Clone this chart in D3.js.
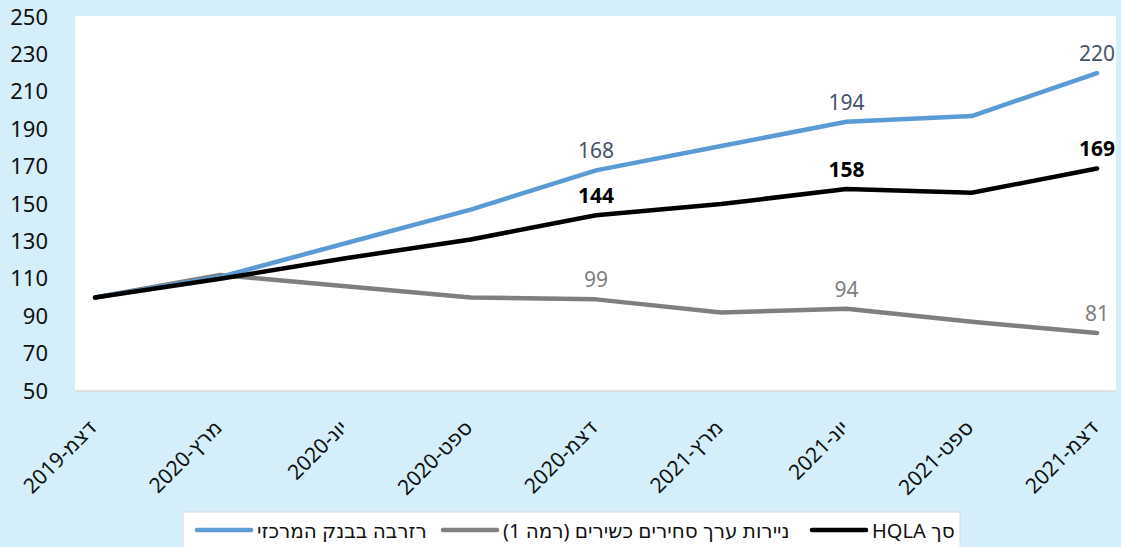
<!DOCTYPE html>
<html lang="he">
<head>
<meta charset="utf-8">
<script src="https://cdn.jsdelivr.net/npm/d3@7"></script>
<style>
  html, body { margin: 0; padding: 0; background: #d4eefa; }
  svg { display: block; font-family: "Noto Sans", "DejaVu Sans", sans-serif; }
</style>
</head>
<body>
<svg id="chart" width="1121" height="547"></svg>
<script>
// Data (index, Dec-2019 = 100)
const categories = ["דצמ-2019", "מרץ-2020", "יונ-2020", "ספט-2020", "דצמ-2020", "מרץ-2021", "יונ-2021", "ספט-2021", "דצמ-2021"];
const reserveValues = [100, 111, 129, 147, 168, 181, 194, 197, 220];
const securitiesValues = [100, 112, 106, 100, 99, 92, 94, 87, 81];
const hqlaValues = [100, 110, 121, 131, 144, 150, 158, 156, 169];
const yTicks = [50, 70, 90, 110, 130, 150, 170, 190, 210, 230, 250];
const labelIdx = [4, 6, 8];

const series = [
  { name: "רזרבה בבנק המרכזי", values: reserveValues, color: "#5b9bd5", labelColor: "#44546a", bold: false },
  { name: "ניירות ערך סחירים כשירים (רמה 1)", values: securitiesValues, color: "#7f7f7f", labelColor: "#808080", bold: false },
  { name: "סך HQLA", values: hqlaValues, color: "#000000", labelColor: "#000000", bold: true },
];

const svg = d3.select("#chart");
const W = 1121, H = 547;
const plot = { left: 75, right: 1116, top: 16, bottom: 391 };

svg.append("rect").attr("width", W).attr("height", H).attr("fill", "#d4eefa");
svg.append("rect")
  .attr("x", plot.left).attr("y", plot.top)
  .attr("width", plot.right - plot.left).attr("height", plot.bottom - plot.top)
  .attr("fill", "#fff");

const x = d3.scalePoint().domain(categories).range([95, 1097]);
const y = d3.scaleLinear().domain([50, 250]).range([plot.bottom, plot.top + 1]);

// y axis labels
const yAxis = svg.append("g")
  .attr("transform", `translate(${plot.left - 27},0)`)
  .call(d3.axisLeft(y).tickValues(yTicks).tickSize(0).tickPadding(0));
yAxis.select(".domain").remove();
yAxis.selectAll("text").attr("font-size", 22).attr("fill", "#111").attr("font-family", "Noto Sans");

// bottom line
svg.append("line")
  .attr("x1", plot.left).attr("x2", plot.right)
  .attr("y1", plot.bottom).attr("y2", plot.bottom)
  .attr("stroke", "#d9d9d9").attr("stroke-width", 1.5);

// x axis labels (rotated)
svg.append("g").selectAll("text")
  .data(categories)
  .enter()
  .append("text")
  .attr("transform", (d) => `translate(${x(d) - 1},${plot.bottom + 34}) rotate(-45)`)
  .attr("text-anchor", "end")
  .attr("dominant-baseline", "middle")
  .attr("font-size", 21)
  .attr("fill", "#111")
  .text((d) => d);

// lines
const line = d3.line()
  .x((d, i) => x(categories[i]))
  .y((d) => y(d));

const drawOrder = [series[1], series[0], series[2]];
svg.append("g").selectAll("path")
  .data(drawOrder)
  .enter()
  .append("path")
  .attr("d", (s) => line(s.values))
  .attr("fill", "none")
  .attr("stroke", (s) => s.color)
  .attr("stroke-width", 4.5)
  .attr("stroke-linejoin", "round")
  .attr("stroke-linecap", "round");

// data labels
series.forEach((s) => {
  svg.append("g").selectAll("text")
    .data(labelIdx)
    .enter()
    .append("text")
    .attr("x", (i) => x(categories[i]))
    .attr("y", (i) => y(s.values[i]) - 12)
    .attr("text-anchor", "middle")
    .attr("font-size", 21)
    .attr("font-weight", s.bold ? "bold" : "normal")
    .attr("fill", s.labelColor)
    .text((i) => s.values[i]);
});

// legend: [line][rtl text] entries, left to right
const legend = svg.append("g");
legend.append("rect")
  .attr("x", 183).attr("y", 512)
  .attr("width", 960 - 183).attr("height", 36)
  .attr("fill", "#fff").attr("stroke", "#d9d9d9");

// pick a font size so the first label is about as wide as in the reference
const probe = svg.append("text").attr("font-size", 20).attr("direction", "rtl").text(series[0].name);
const legendFont = Math.min(20, 20 * 175 / probe.node().getComputedTextLength());
probe.remove();

const legendStarts = [197, 443, 812];
const lineLen = 54, textGap = 6;
const ly = 530;
series.forEach((s, i) => {
  const lx = legendStarts[i];
  legend.append("line")
    .attr("x1", lx).attr("x2", lx + lineLen).attr("y1", ly).attr("y2", ly)
    .attr("stroke", s.color).attr("stroke-width", 4.5).attr("stroke-linecap", "round");
  // in rtl, text-anchor "end" puts the text's left edge at x
  legend.append("text")
    .attr("x", lx + lineLen + textGap)
    .attr("y", ly)
    .attr("dominant-baseline", "central")
    .attr("font-size", legendFont)
    .attr("fill", "#111")
    .attr("direction", "rtl")
    .attr("text-anchor", "end")
    .text(s.name);
});
</script>
</body>
</html>
